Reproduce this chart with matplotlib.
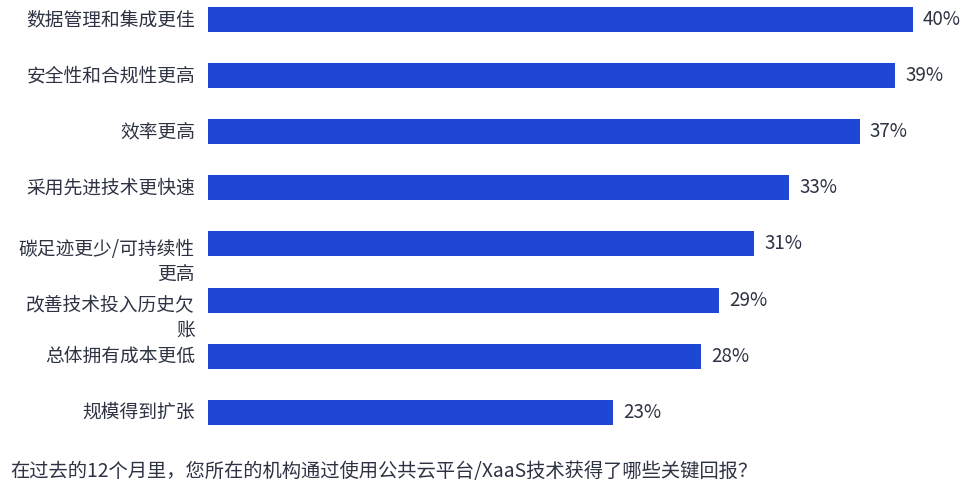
import matplotlib
matplotlib.use("Agg")
import matplotlib.pyplot as plt

plt.rcParams['font.family'] = ['Noto Sans CJK SC', 'DejaVu Sans']

categories = ["数据管理和集成更佳", "安全性和合规性更高", "效率更高", "采用先进技术更快速",
              "碳足迹更少/可持续性\n更高", "改善技术投入历史欠\n账", "总体拥有成本更低", "规模得到扩张"]
values = [40, 39, 37, 33, 31, 29, 28, 23]
question = "在过去的12个月里，您所在的机构通过使用公共云平台/XaaS技术获得了哪些关键回报？"

W, H = 973, 496
fig = plt.figure(figsize=(W/100, H/100), dpi=100)
ax_left = 208 / W
ax_right = 965 / W
ax_top_px, ax_bot_px = 0, 440
ax = fig.add_axes([ax_left, 1 - ax_bot_px/H, ax_right - ax_left, (ax_bot_px - ax_top_px)/H])

unit = 56.1
top_lim = -19.5 / unit
bot_lim = top_lim + (ax_bot_px - ax_top_px) / unit
bar_color = "#1f47d6"
text_color = "#2d3343"

ys = list(range(len(values)))
ax.barh(ys, values, height=25/unit, color=bar_color)
ax.set_xlim(0, (965 - 208) / 17.62)
ax.set_ylim(bot_lim, top_lim)
ax.axis('off')

for y, v, c in zip(ys, values, categories):
    ax.text(v + 10/17.62, y, f"{v}%", va='center', ha='left', fontsize=13.5, color=text_color)
    if "\n" in c:
        ax.text(-13/17.62, y + 18/unit, c, va='center', ha='right', fontsize=13.5,
                color=text_color, linespacing=1.2, multialignment='right')
    else:
        ax.text(-13/17.62, y, c, va='center', ha='right', fontsize=13.5, color=text_color)

fig.text(10/W, 1 - 471/H, question, va='center', ha='left', fontsize=13.9, color=text_color)

fig.savefig("out.png", dpi=100, facecolor='white')
